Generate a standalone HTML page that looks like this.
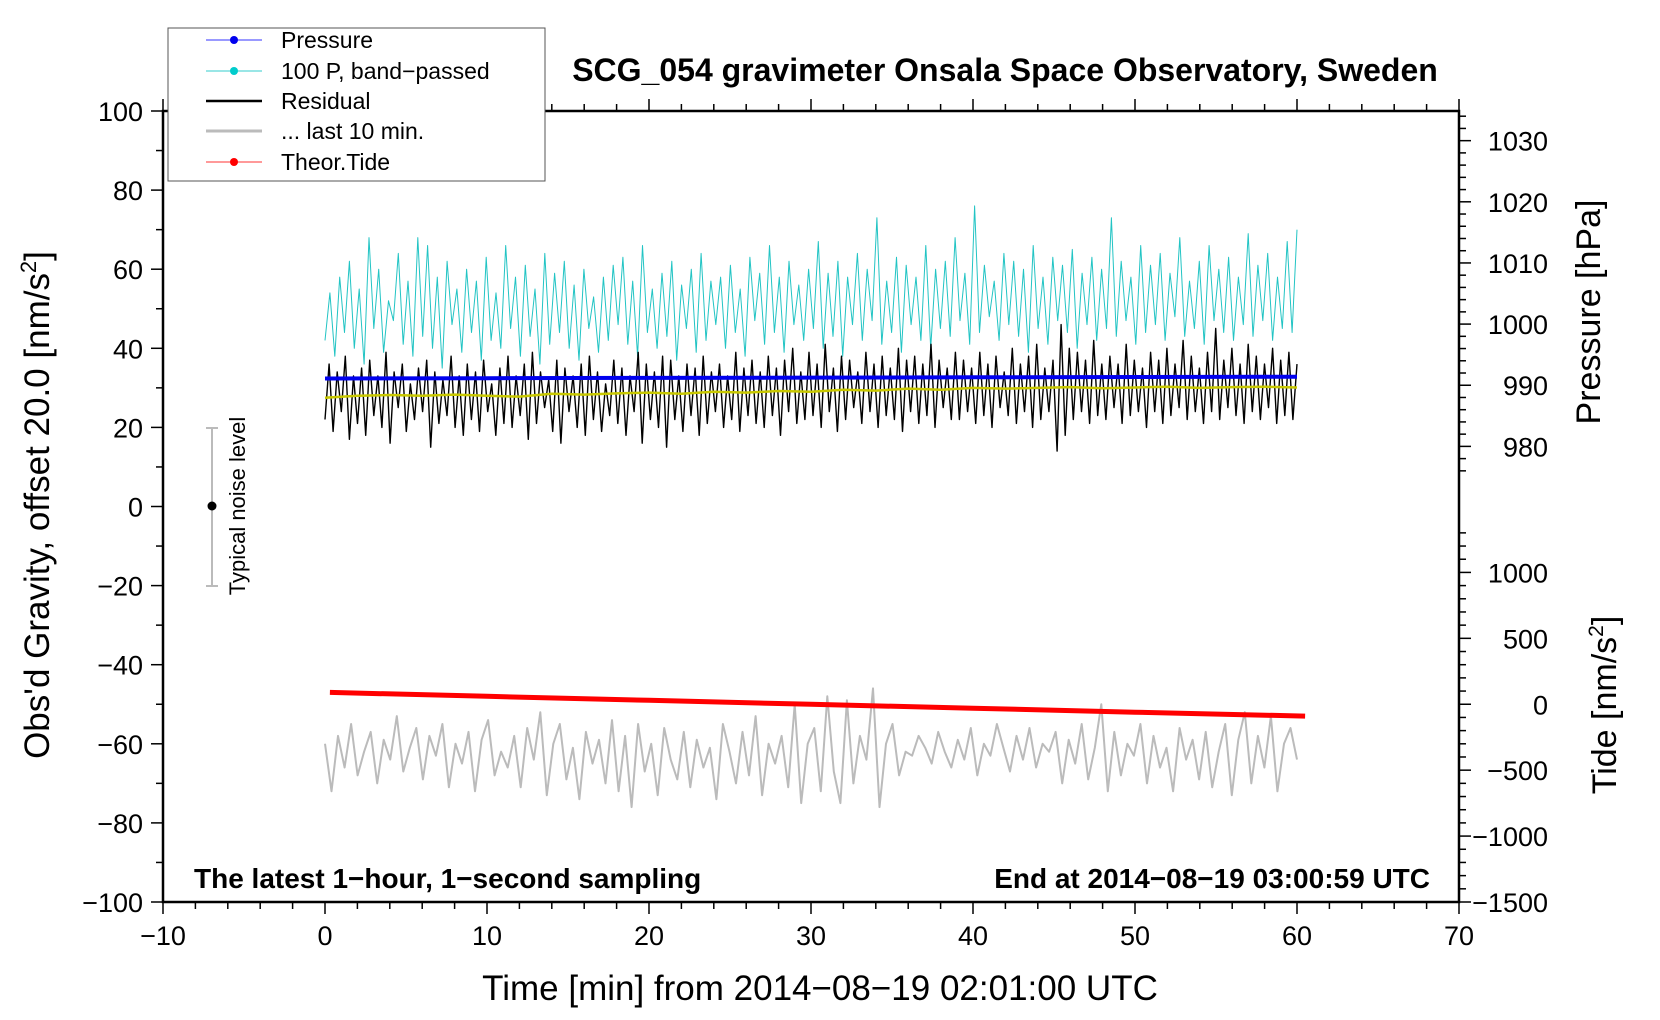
<!DOCTYPE html>
<html><head><meta charset="utf-8"><style>
html,body{margin:0;padding:0;background:#fff;}
svg{display:block;font-family:"Liberation Sans",sans-serif;}
</style></head><body>
<svg id="chart" width="1660" height="1020" viewBox="0 0 1660 1020" xmlns="http://www.w3.org/2000/svg">
<rect width="1660" height="1020" fill="#fff"/>
<g id="axes"></g>
<g id="series"></g>
<text x="1005" y="81" text-anchor="middle" font-size="32" font-weight="bold">SCG_054 gravimeter Onsala Space Observatory, Sweden</text>
<text transform="translate(49,505) rotate(-90)" text-anchor="middle" font-size="35">Obs'd Gravity, offset 20.0 [nm/s<tspan font-size="22" dy="-13">2</tspan><tspan dy="13">]</tspan></text>
<text transform="translate(1600,312) rotate(-90)" text-anchor="middle" font-size="34">Pressure [hPa]</text>
<text transform="translate(1616,705) rotate(-90)" text-anchor="middle" font-size="34">Tide [nm/s<tspan font-size="21" dy="-13">2</tspan><tspan dy="13">]</tspan></text>
<text x="820" y="1000" text-anchor="middle" font-size="35">Time [min] from 2014−08−19 02:01:00 UTC</text>
<text x="194" y="888" font-size="28" font-weight="bold">The latest 1−hour, 1−second sampling</text>
<text x="1430" y="888" text-anchor="end" font-size="28" font-weight="bold">End at 2014−08−19 03:00:59 UTC</text>
<g>
<rect x="168" y="28" width="377" height="153" fill="#fff" stroke="#555" stroke-width="1"/>
<g><line x1="206" y1="40" x2="262" y2="40" stroke="#3333ff" stroke-width="1"/><circle cx="234" cy="40" r="4" fill="#0000ee"/><text x="281" y="48" font-size="23">Pressure</text></g>
<g><line x1="206" y1="71" x2="262" y2="71" stroke="#33cccc" stroke-width="1"/><circle cx="234" cy="71" r="4" fill="#00cccc"/><text x="281" y="79" font-size="23">100 P, band−passed</text></g>
<g><line x1="206" y1="101" x2="262" y2="101" stroke="#000" stroke-width="2.5"/><text x="281" y="109" font-size="23">Residual</text></g>
<g><line x1="206" y1="131" x2="262" y2="131" stroke="#bbb" stroke-width="3"/><text x="281" y="139" font-size="23">... last 10 min.</text></g>
<g><line x1="206" y1="162" x2="262" y2="162" stroke="#ff3333" stroke-width="1"/><circle cx="234" cy="162" r="4" fill="#ff0000"/><text x="281" y="170" font-size="23">Theor.Tide</text></g>
</g>
<g>
<line x1="212" y1="428" x2="212" y2="586" stroke="#bbb" stroke-width="2"/>
<line x1="206" y1="428" x2="218" y2="428" stroke="#bbb" stroke-width="2"/>
<line x1="206" y1="586" x2="218" y2="586" stroke="#bbb" stroke-width="2"/>
<circle cx="212" cy="506" r="4.5" fill="#000"/>
<text transform="translate(245,506) rotate(-90)" text-anchor="middle" font-size="22">Typical noise level</text>
</g>
</svg>
<script>
const bandPassed=[42,54,38,58,44,62,40,55,36,68,45,60,39,52,47,64,41,57,38,68,43,66,40,58,35,62,46,55,39,60,44,57,37,63,42,54,40,66,45,58,38,61,43,55,36,64,41,59,44,62,40,56,37,60,45,53,39,58,42,61,46,63,41,57,38,66,44,55,40,59,43,62,37,56,45,60,39,64,42,57,46,58,40,61,44,55,38,63,47,59,41,66,44,58,39,62,46,56,42,60,45,67,40,59,43,62,38,58,46,64,42,60,47,73,41,57,44,63,39,61,46,58,42,66,40,60,45,62,43,68,47,59,41,76,44,61,48,57,42,64,46,62,43,60,39,66,45,58,41,63,47,61,44,65,40,59,46,63,42,60,45,73,43,62,47,58,41,66,44,61,46,64,42,59,48,68,43,57,45,62,41,66,47,60,44,63,42,58,46,69,43,61,47,64,42,58,45,67,44,70];
const residual=[22,36,19,34,24,38,17,33,21,35,18,37,23,33,20,39,16,34,25,36,19,31,22,35,24,37,15,34,21,32,23,38,20,33,18,36,22,34,19,37,24,31,18,35,21,38,20,33,23,36,17,39,21,34,25,32,19,37,16,35,24,33,20,36,18,38,22,34,19,31,23,37,21,35,18,33,24,39,16,36,22,34,20,38,15,37,22,33,19,36,23,35,18,38,21,34,24,36,20,33,22,39,19,35,23,37,21,34,20,38,23,35,18,37,24,40,21,34,22,39,23,36,20,41,24,35,19,38,22,37,25,34,21,39,24,36,20,38,23,35,22,40,19,37,24,38,21,36,23,41,20,37,25,35,22,39,22,37,24,35,21,39,23,36,20,38,25,34,23,40,21,36,24,38,20,41,22,35,24,37,14,46,18,40,22,39,24,37,21,42,23,36,22,38,25,36,21,41,23,37,24,35,20,39,24,37,21,40,23,36,25,42,22,38,24,35,21,39,24,45,22,37,25,40,23,36,21,41,24,38,22,36,25,40,21,37,23,39,22,36];
const smoothed=[27.5,28,28.2,28,28.3,28,27.8,28.5,28.3,28.6,28.8,28.5,29,28.8,29.2,29,29.5,29.3,29.8,29.5,30,29.8,30,30.2,29.9,30.1,30.3,30,30.2,30.3,30.1];
const lastTen=[-60,-72,-58,-66,-55,-68,-62,-57,-70,-59,-64,-53,-67,-61,-56,-69,-58,-63,-55,-71,-60,-65,-57,-72,-59,-54,-68,-62,-66,-58,-71,-56,-64,-52,-73,-60,-55,-69,-61,-74,-57,-65,-59,-70,-54,-72,-58,-76,-55,-67,-60,-73,-56,-64,-69,-57,-71,-59,-66,-61,-74,-55,-62,-70,-57,-68,-53,-73,-60,-65,-58,-71,-50,-75,-60,-56,-72,-48,-67,-75,-49,-70,-58,-64,-46,-76,-60,-55,-68,-62,-63,-58,-61,-65,-57,-62,-66,-59,-64,-56,-68,-60,-63,-55,-61,-67,-58,-64,-56,-66,-60,-62,-57,-70,-59,-65,-55,-69,-61,-50,-72,-57,-68,-60,-63,-55,-70,-58,-66,-61,-72,-56,-64,-59,-69,-57,-71,-62,-55,-73,-59,-52,-70,-58,-66,-53,-72,-60,-56,-64];
const pressureHpa=[991.1,991.15,991.2,991.25,991.3,991.35,991.4];
const tideTimes=[0.3,10,20,30,40,50,60.5];
const tideValues=[90,60,30,0,-30,-60,-90];
const xTicks=[-10,0,10,20,30,40,50,60,70];
const yTicks=[-100,-80,-60,-40,-20,0,20,40,60,80,100];
const pTicks=[980,990,1000,1010,1020,1030];
const tTicks=[-1500,-1000,-500,0,500,1000];

const NS="http://www.w3.org/2000/svg";
const X=t=>163+16.2*(t+10);
const Y=g=>111+(100-g)*3.955;
const P2G=p=>92.5-(1030-p)*1.546;
const T2G=t=>-50+t/30;
const axes=document.getElementById('axes'), ser=document.getElementById('series');
function mk(tag,attrs,parent){const e=document.createElementNS(NS,tag);for(const k in attrs)e.setAttribute(k,attrs[k]);parent.appendChild(e);return e;}
function line(x1,y1,x2,y2,w,p){return mk('line',{x1,y1,x2,y2,stroke:'#000','stroke-width':w},p);}
function txt(x,y,s,anchor,p){const t=mk('text',{x,y,'text-anchor':anchor,'font-size':27},p);t.textContent=s;return t;}
const L=X(-10),R=X(70),T=Y(100),B=Y(-100);
const frame=mk('rect',{x:L,y:T,width:R-L,height:B-T,fill:'none',stroke:'#000','stroke-width':2.5},axes);


for(let t=-10;t<=70;t+=2){const maj=t%10===0;line(X(t),B,X(t),B+(maj?12:7),1.5,axes);line(X(t),T,X(t),T-(maj?12:7),1.5,axes);}
xTicks.forEach(v=>{const e=txt(X(v),B+43,String(v).replace('-','−'),'middle',axes);

});
for(let g=-100;g<=100;g+=10){const maj=g%20===0;line(L,Y(g),L-(maj?12:7),Y(g),1.5,axes);}
yTicks.forEach(v=>{const e=txt(L-20,Y(v)+10,String(v).replace('-','−'),'end',axes);

});
for(let p=976;p<=1034;p+=2){const maj=p%10===0;line(R,Y(P2G(p)),R+(maj?12:7),Y(P2G(p)),1.5,axes);}
pTicks.forEach(v=>{const e=txt(1548,Y(P2G(v))+10,String(v),'end',axes);

});
for(let t=-1500;t<=1300;t+=100){const maj=t%500===0;line(R,Y(T2G(t)),R+(maj?12:7),Y(T2G(t)),1.5,axes);}
tTicks.forEach(v=>{const e=txt(1548,Y(T2G(v))+10,String(v).replace('-','−'),'end',axes);

});
function poly(vals,t0,t1,color,w,name){const n=vals.length;const pts=vals.map((v,i)=>X(t0+(t1-t0)*i/(n-1)).toFixed(1)+','+Y(v).toFixed(1)).join(' ');
const e=mk('polyline',{points:pts,fill:'none',stroke:color,'stroke-width':w,'stroke-linejoin':'round'},ser);

return e;}
poly(bandPassed,0,60,'#22c4c4',1,'band-passed-pressure-line');
poly(residual,0,60,'#000',1.4,'residual-line');
poly(pressureHpa.map(P2G),0,60,'#0000ee',4,'pressure-line');
poly(smoothed,0,60,'#c8c800',2.5,'smoothed-residual-line');
poly(lastTen,0,60,'#bbbbbb',2,'last-10-min-line');
const tpts=tideTimes.map((t,i)=>X(t).toFixed(1)+','+Y(T2G(tideValues[i])).toFixed(1)).join(' ');
const tl=mk('polyline',{points:tpts,fill:'none',stroke:'#ff0000','stroke-width':5},ser);


</script>
</body></html>
